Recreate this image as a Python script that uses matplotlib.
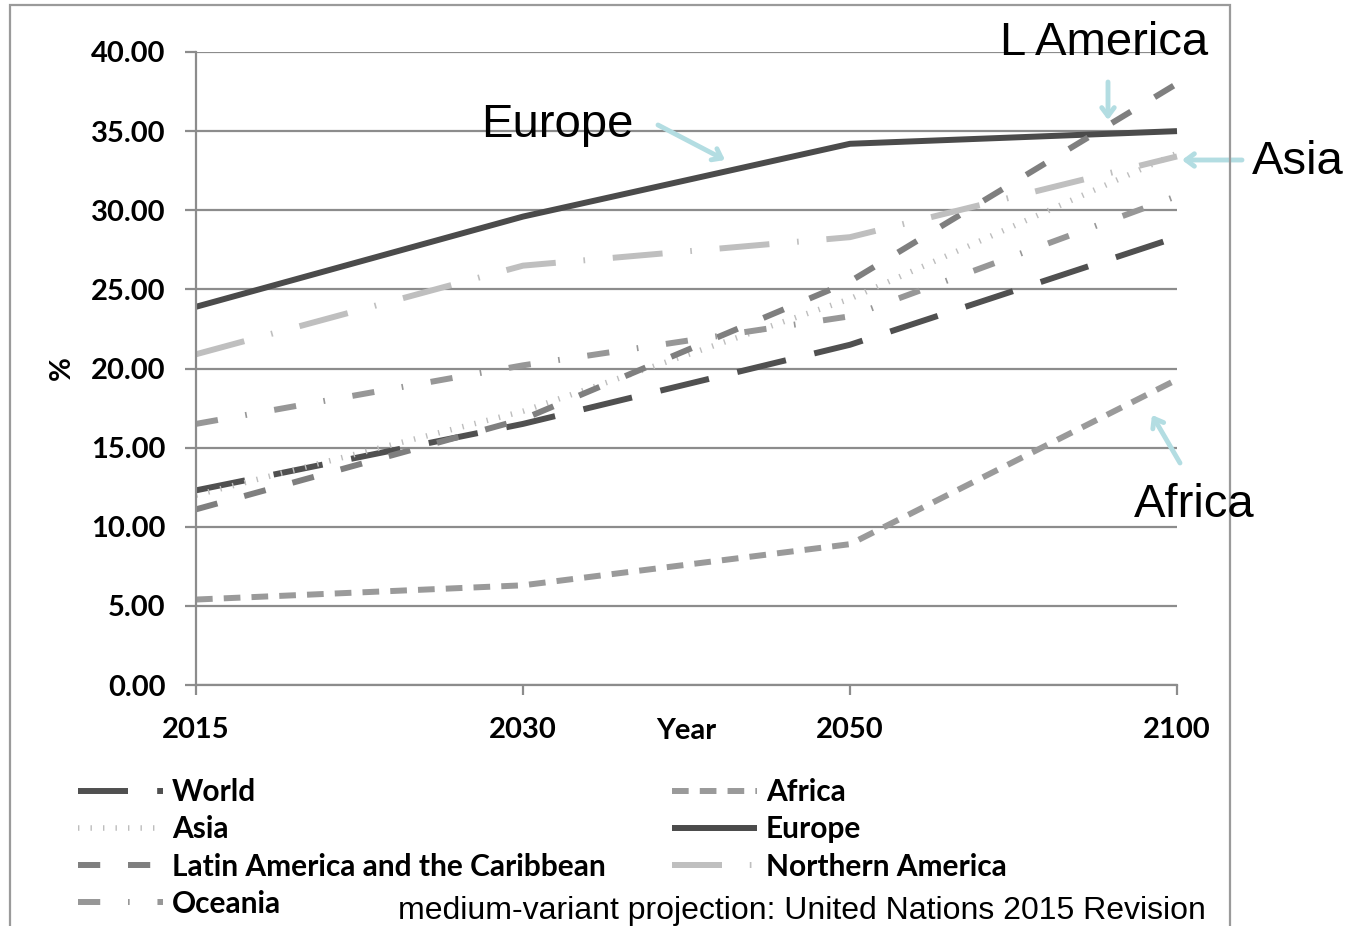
import matplotlib.pyplot as plt
from matplotlib.patches import Rectangle

plt.rcParams["lines.scale_dashes"] = False

# ---- data (share of population aged 60+, %) ----
years = ["2015", "2030", "2050", "2100"]
world = [12.3, 16.5, 21.5, 28.3]
africa = [5.4, 6.3, 8.9, 19.3]
asia = [12.0, 17.3, 24.4, 33.6]
europe = [23.9, 29.6, 34.2, 35.0]
latin_america = [11.1, 16.8, 25.5, 38.0]
northern_america = [20.9, 26.5, 28.3, 33.4]
oceania = [16.5, 20.2, 23.3, 30.9]

series_names = ["World", "Africa", "Asia", "Europe",
                "Latin America and the Caribbean", "Northern America", "Oceania"]
series_values = [world, africa, asia, europe, latin_america,
                 northern_america, oceania]

# ---- styles ----
LW = 4.3
STYLES = {
    "World": dict(color="#505050", lw=LW, ls=(0, (36, 21))),
    "Africa": dict(color="#9a9a9a", lw=LW, ls=(0, (12, 8))),
    "Asia": dict(color="#bdbdbd", lw=4.0, ls=(0, (1.0, 8))),
    "Europe": dict(color="#4b4b4b", lw=LW, ls="-"),
    "Latin America and the Caribbean": dict(color="#7f7f7f", lw=LW, ls=(0, (16, 20))),
    "Northern America": dict(color="#bfbfbf", lw=LW, ls=(0, (36, 20, 1.2, 20))),
    "Oceania": dict(color="#979797", lw=LW, ls=(0, (16, 20, 1.2, 20))),
}
GRID = "#8c8c8c"
ARROW = "#b3dde2"
TICK_FONT = "Lato"
NOTE_FONT = "Liberation Sans"
FS = 21

fig = plt.figure(figsize=(13.53, 9.26), dpi=100)
ax = fig.add_axes([196 / 1353, 1 - 685 / 926, (1177 - 196) / 1353, (685 - 52) / 926])

x = list(range(len(years)))
handles = {}
for name, vals in zip(series_names, series_values):
    st = STYLES[name]
    (ln,) = ax.plot(x, vals, color=st["color"], lw=st["lw"], linestyle=st["ls"],
                    solid_capstyle="butt", dash_capstyle="butt", clip_on=False,
                    label=name)
    handles[name] = ln

ax.set_xlim(0, 3)
ax.set_ylim(0, 40)
ax.set_xticks(x)
ax.set_xticklabels(years)
ax.set_yticks(range(0, 41, 5))
ax.set_yticklabels([f"{v:.2f}" for v in range(0, 41, 5)])
ax.yaxis.grid(True, color=GRID, lw=1.6)
ax.set_axisbelow(True)
for s in ("top", "right"):
    ax.spines[s].set_visible(False)
for s in ("left", "bottom"):
    ax.spines[s].set_color(GRID)
    ax.spines[s].set_linewidth(1.6)
ax.tick_params(axis="y", length=8, width=1.6, color=GRID, pad=14)
ax.tick_params(axis="x", length=7, width=1.6, color=GRID, pad=16)
for lab in ax.get_xticklabels() + ax.get_yticklabels():
    lab.set_fontfamily(TICK_FONT)
    lab.set_fontweight("bold")
    lab.set_fontsize(FS)

fig.text(62 / 1353, 1 - 368 / 926, "%", rotation=90, ha="center", va="center",
         family=TICK_FONT, fontweight="bold", fontsize=FS)
fig.text(686 / 1353, 1 - 731 / 926, "Year", ha="center", va="center",
         family=TICK_FONT, fontweight="bold", fontsize=FS)

# ---- annotations ----
def note(txt, xy_px, ha="left"):
    fig.text(xy_px[0] / 1353, 1 - xy_px[1] / 926, txt, ha=ha, va="center",
             family=NOTE_FONT, fontsize=34)

def arrow(p0, p1):
    ax.annotate("", xy=(p1[0] / 1353, 1 - p1[1] / 926), xycoords="figure fraction",
                xytext=(p0[0] / 1353, 1 - p0[1] / 926), textcoords="figure fraction",
                arrowprops=dict(arrowstyle="->,head_length=0.6,head_width=0.45",
                                color=ARROW, lw=3.5, shrinkA=0, shrinkB=0),
                annotation_clip=False)

note("Europe", (481, 125))
note("L America", (1000, 43))
note("Asia", (1252, 162))
note("Africa", (1134, 505))
arrow((658, 125), (725, 160))
arrow((1108, 82), (1108, 120))
arrow((1242, 160), (1182, 160))
arrow((1180, 463), (1152, 415))

# ---- legend, two columns as in the original ----
left = ["World", "Asia", "Latin America and the Caribbean", "Oceania"]
right = ["Africa", "Europe", "Northern America"]
leg_kw = dict(frameon=False, handlelength=2.85, handletextpad=0.3,
              labelspacing=0.31, borderpad=0, borderaxespad=0,
              prop=dict(family=TICK_FONT, weight="bold", size=21.5))
leg1 = fig.legend([handles[n] for n in left], left, loc="upper left",
                  bbox_to_anchor=(78 / 1353, 1 - 778 / 926), **leg_kw)
leg2 = fig.legend([handles[n] for n in right], right, loc="upper left",
                  bbox_to_anchor=(672 / 1353, 1 - 778 / 926), **leg_kw)

fig.text(398 / 1353, 1 - 911 / 926,
         "medium-variant projection: United Nations 2015 Revision",
         ha="left", va="center", family=NOTE_FONT, fontsize=23)

# outer chart frame
fig.patches.append(Rectangle((10 / 1353, -0.05), (1230 - 10) / 1353, 1.05 - 5 / 926,
                             transform=fig.transFigure, fill=False,
                             edgecolor="#9a9a9a", lw=1.6, zorder=0))

fig.savefig("out.png", dpi=100, facecolor="white")
